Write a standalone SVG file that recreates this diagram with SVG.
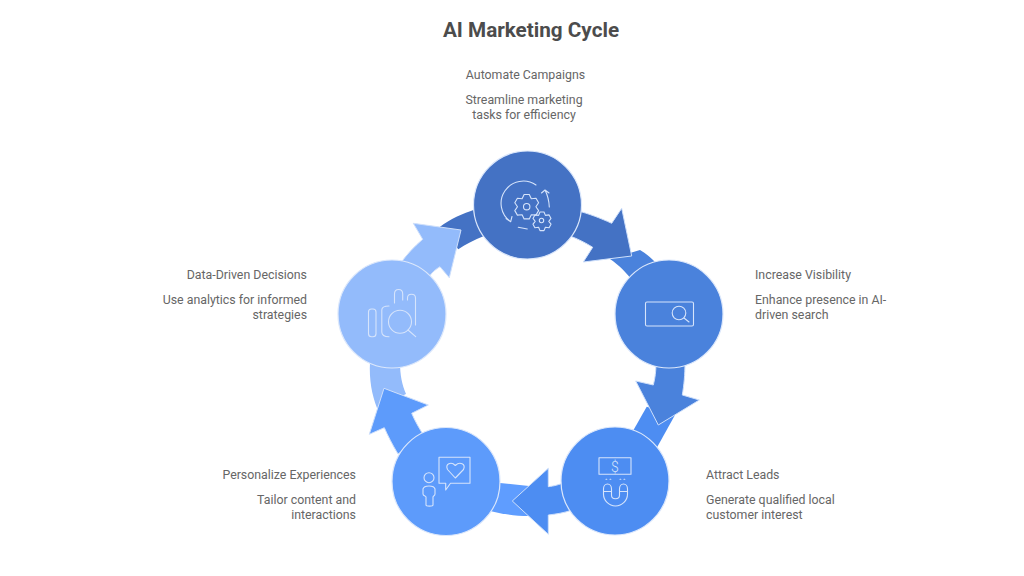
<svg xmlns="http://www.w3.org/2000/svg" width="1024" height="576" viewBox="0 0 1024 576">
<style>
text{font-family:"Roboto","Liberation Sans",sans-serif;font-size:12.35px;fill:#666}
.t{font-size:20.7px;font-weight:700;fill:#4c4c4c;text-anchor:middle}
.m{text-anchor:middle}.e{text-anchor:end}
.a{stroke:#cfe0fb;stroke-width:1;stroke-linejoin:miter}
.c{stroke:#dbe7fb;stroke-width:1.2}
.i{fill:none;stroke:#d6e4fb;stroke-width:1.1;stroke-linecap:round;stroke-linejoin:round}
</style>
<rect width="1024" height="576" fill="#fff"/>
<text class="t" x="531" y="37">AI Marketing Cycle</text>
<g id="connectors">
<path fill="#4a82dc" d="M610 259C620 266 626 272 634 283L660 268C654 260 647 254 640 250Z"/>
<path fill="#4d8df2" d="M646.700 406.700L625 445L650 460L675 415Z"/>
<path fill="#5f9dff" d="M490 482L529 486L529 516C515 516 503 514 490 511Z"/>
<path fill="#93bbfb" d="M370 362C369 380 372 395 377 408L406 394C402 385 400 375 400 362Z"/>
<path fill="#4472c4" d="M440 226.700C450 219 462 214 476 209L484 236C474 240 466 244 458.300 249.300Z"/>
<path class="a" fill="#4472c4" d="M575 210C590 214 600 218 611.700 223.300L621.700 208.300L631.700 256L583.300 262L592.700 247.300C586 243 578 239 570 236Z"/>
<path class="a" fill="#4a82dc" d="M685 362C685 375 684 385 682.300 395L699.300 400L658.300 425L635.700 381L653.300 385C655 378 656 372 656 362Z"/>
<path class="a" fill="#4d8df2" d="M572 510C564 513 556 514 548.300 515L548.300 534.300L512.300 501L548.300 468.300L548.300 486.700C554 486 558 485 566 482Z"/>
<path class="a" fill="#5d9bfb" d="M424 436C419 428 415 421 411.700 413.300L428.300 405L384 388.300L369.300 434.300L384.300 427.700C388 436 392 444 398 454Z"/>
<path class="a" fill="#93bbfb" d="M400 264C407 254 414 247 422.700 239.300L413.300 223.300L461 230L449.300 277.700L440 266.700C436 269 434 271 431.700 273.300L428 278Z"/>
</g>
<g id="node-automate">
<circle class="c" cx="527.500" cy="205" r="54" fill="#4472c4"/>
<g class="i"><path d="M536 185A21 21 0 0 0 510.700 221.700L506 218.500M510.700 221.700L512 216.500"/><path d="M549.300 207C549 200 547.500 195 545 190L541.500 193M545 190L549 193"/><path d="M518.300 227.300L527.300 229"/>
<path d="M524.100 194.500L529.300 194.500L531.300 198.700L536 198.300L538.600 202.800L535.900 206.700L538.600 210.600L536 215.100L531.300 214.700L529.300 218.900L524.100 218.900L522.100 214.700L517.400 215.100L514.800 210.600L517.500 206.700L514.800 202.800L517.400 198.300L522.100 198.700Z"/><circle cx="526.700" cy="206.700" r="3.200"/>
<path transform="translate(.5 .8)" d="M539.500 211.200L543.500 211.200L544.900 214.600L548.600 214.100L550.500 217.600L548.300 220.500L550.500 223.400L548.600 226.900L544.900 226.400L543.500 229.800L539.500 229.800L538.100 226.400L534.400 226.900L532.500 223.400L534.700 220.500L532.500 217.600L534.400 214.100L538.100 214.600Z"/><circle cx="541.500" cy="220.500" r="2.200"/></g>
<text x="525.500" y="78.500" class="m">Automate Campaigns</text>
<text x="524" y="103.500" class="m">Streamline marketing</text>
<text x="524" y="118.500" class="m">tasks for efficiency</text>
</g>
<g id="node-visibility">
<circle class="c" cx="669" cy="314" r="54" fill="#4a82dc"/>
<g class="i"><rect x="645.500" y="302" width="48" height="24" rx="1.500"/><circle cx="679" cy="313" r="6.800"/><path d="M684 318L689 322"/></g>
<text x="755" y="278.500">Increase Visibility</text>
<text x="755" y="303.500">Enhance presence in AI-</text>
<text x="755" y="318.500">driven search</text>
</g>
<g id="node-leads">
<circle class="c" cx="615" cy="481" r="54" fill="#4d8df2"/>
<g class="i"><rect x="599" y="457.700" width="32" height="16.600"/><text x="615" y="471.500" class="m" style="fill:#d6e4fb;stroke:none;font-size:14px;font-weight:300">$</text><path d="M606 479.300L606.800 479.300M610 479.300L610.800 479.300M620 479.300L620.800 479.300M624 479.300L624.800 479.300"/><path d="M603.500 495V489A4 5 0 0 1 611.500 489V495C611.500 500 619.500 500 619.500 495V489A4 5 0 0 1 627.500 489V494A12 12 0 0 1 603.500 494ZM603.500 491.500H611.500M619.500 491.500H627.500"/></g>
<text x="706" y="479">Attract Leads</text>
<text x="706" y="503.500">Generate qualified local</text>
<text x="706" y="518.500">customer interest</text>
</g>
<g id="node-personalize">
<circle class="c" cx="446" cy="481.500" r="54" fill="#5d9bfb"/>
<g class="i"><path d="M439 457.300H470V483.300H450.500L445.700 490V483.300H439Z"/><path d="M455.300 478L447.500 469.500C445 464 451 461 455.300 465.500C460 461 466 464 463.500 469.500Z"/><circle cx="429" cy="477.700" r="5"/><path d="M423 489C424 485 434 485 435 489V494C435 496 433 496 433 497V505C433 506.500 426 506.500 426 505V497C426 496 423 496 423 494Z"/></g>
<text x="356" y="479" class="e">Personalize Experiences</text>
<text x="356" y="503.500" class="e">Tailor content and</text>
<text x="356" y="518.500" class="e">interactions</text>
</g>
<g id="node-data">
<circle class="c" cx="392" cy="314" r="54" fill="#93bbfb"/>
<g class="i"><rect x="368.500" y="309" width="7.500" height="27.700" rx="3"/><path d="M389 336.700C384 336.700 381.800 335 381.800 332V310C381.800 307 384 306 389 306"/><path d="M394.500 303V294C394.500 288 402.700 288 402.700 294V300"/><path d="M407.500 300V298C407.500 293 415.500 293 415.500 298V325"/><circle cx="400" cy="321.700" r="11.500"/><path d="M408 330L415.700 336.700"/></g>
<text x="307" y="278.500" class="e">Data-Driven Decisions</text>
<text x="307" y="303.500" class="e">Use analytics for informed</text>
<text x="307" y="318.500" class="e">strategies</text>
</g>
</svg>
